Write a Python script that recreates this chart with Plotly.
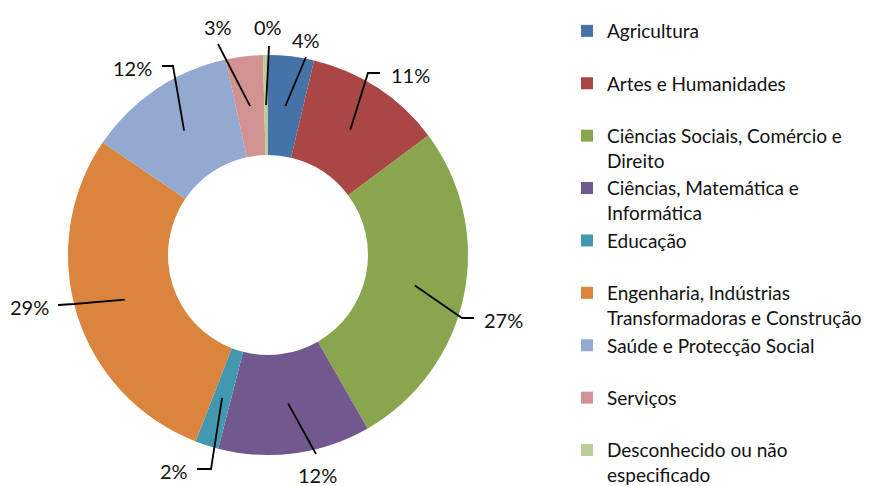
import math
import plotly.graph_objects as go

# ---------------- data ----------------
categories = [
    "Agricultura",
    "Artes e Humanidades",
    "Ciências Sociais, Comércio e Direito",
    "Ciências, Matemática e Informática",
    "Educação",
    "Engenharia, Indústrias Transformadoras e Construção",
    "Saúde e Protecção Social",
    "Serviços",
    "Desconhecido ou não especificado",
]
shares = [3.7, 11.1, 26.9, 12.3, 1.9, 28.6, 12.1, 3.0, 0.4]

# legend text as wrapped in the original
legend_text = [
    "Agricultura<br> ",
    "Artes e Humanidades<br> ",
    "Ciências Sociais, Comércio e<br>Direito",
    "Ciências, Matemática e<br>Informática",
    "Educação<br> ",
    "Engenharia, Indústrias<br>Transformadoras e Construção",
    "Saúde e Protecção Social<br> ",
    "Serviços<br> ",
    "Desconhecido ou não<br>especificado",
]

# ---------------- style ----------------
colors = ["#4572A7", "#AA4643", "#89A54E", "#71588F", "#4198AF",
          "#DB843D", "#93A9CF", "#D19392", "#B9CD96"]
OFF = 8                 # page body margin of the browser
W, H = 874 - OFF, 486   # figure size
CX, CY, R = 268, 255, 200    # pie centre / radius in window px
HOLE = 0.5
FONT = "Lato, 'Open Sans', sans-serif"
TXT = "#111111"

# label text centres and leader-line bend points (window px, layout only)
label_pos = [(306, 40), (410, 75), (503, 320), (317, 475), (174, 471),
             (29, 307), (133, 68), (218, 27), (268, 27)]
leader_pts = [
    [(306, 57)],
    [(368, 73), (380, 73)],
    [(462, 318), (474, 318)],
    [(316, 454)],
    [(211, 469), (197, 469)],
    [(74, 304), (58, 305)],
    [(173, 66), (162, 66)],
    [(218, 44)],
    [(269, 46)],
]


def px(x, y):
    return (x - OFF) / W, 1 - (y - OFF) / H


x0, y1 = px(CX - R, CY - R)
x1, y0 = px(CX + R, CY + R)

fig = go.Figure(go.Pie(
    labels=legend_text,
    values=shares,
    hole=HOLE,
    sort=False,
    direction="clockwise",
    rotation=0,
    marker=dict(colors=colors, line=dict(width=0)),
    textinfo="none",
    hoverinfo="label+percent",
    domain=dict(x=[x0, x1], y=[y0, y1]),
))

total = sum(shares)
cum = 0.0
shapes, annotations = [], []
for i, v in enumerate(shares):
    mid = (cum + v / 2) / total * 2 * math.pi
    cum += v
    ax = CX + 0.75 * R * math.sin(mid)
    ay = CY - 0.75 * R * math.cos(mid)
    pts = [(ax, ay)] + leader_pts[i]
    path = ""
    for j, (x, y) in enumerate(pts):
        qx, qy = px(x, y)
        path += ("M" if j == 0 else "L") + f"{qx:.5f},{qy:.5f}"
    shapes.append(dict(type="path", path=path, xref="paper", yref="paper",
                       line=dict(color="#000000", width=1.8)))
    lx, ly = px(*label_pos[i])
    annotations.append(dict(x=lx, y=ly, xref="paper", yref="paper",
                            text=f"{round(v / total * 100):.0f}%",
                            showarrow=False, xanchor="center", yanchor="middle",
                            font=dict(family=FONT, size=20, color=TXT)))

lgx, lgy = px(567, 21)
fig.update_layout(
    width=W, height=H,
    margin=dict(l=0, r=0, t=0, b=0),
    paper_bgcolor="white", plot_bgcolor="white",
    shapes=shapes, annotations=annotations,
    showlegend=True,
    legend=dict(x=lgx, y=lgy, xanchor="left", yanchor="top",
                valign="top", traceorder="normal",
                font=dict(family=FONT, size=19, color=TXT),
                bgcolor="rgba(0,0,0,0)", itemclick=False),
)

fig.write_html("out.html")
